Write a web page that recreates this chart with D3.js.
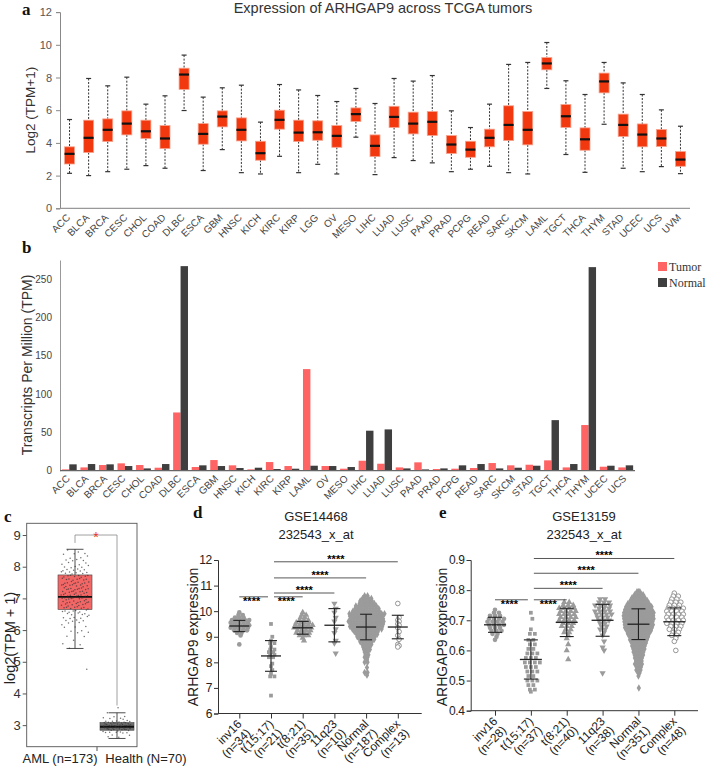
<!DOCTYPE html>
<html><head><meta charset="utf-8">
<script src="https://cdn.jsdelivr.net/npm/d3@7"></script>
<style>
html,body{margin:0;padding:0;background:#fff;}
svg{display:block;font-family:"Liberation Sans",Arial,sans-serif;}
</style></head>
<body>
<svg id="fig" width="708" height="767"></svg>
<script>
// ---------------- DATA ----------------
// Panel a: TCGA boxplots (log2 TPM+1)
const aCats = ["ACC","BLCA","BRCA","CESC","CHOL","COAD","DLBC","ESCA","GBM","HNSC","KICH","KIRC","KIRP","LGG","OV","MESO","LIHC","LUAD","LUSC","PAAD","PRAD","PCPG","READ","SARC","SKCM","LAML","TGCT","THCA","THYM","STAD","UCEC","UCS","UVM"];
const aLow  = [2.14,2.00,2.24,2.39,2.61,2.45,5.98,2.31,3.59,2.18,2.10,3.18,2.18,2.69,2.10,4.35,2.06,3.10,2.92,2.78,2.24,2.39,2.57,2.18,2.10,7.33,3.29,2.20,5.14,2.45,2.24,2.55,2.12];
const aQ1   = [2.71,3.41,4.08,4.49,4.27,3.65,7.27,3.92,4.98,4.12,2.94,4.84,4.08,4.16,3.73,5.31,3.16,4.94,4.55,4.45,3.35,3.12,3.76,4.14,3.88,8.47,4.94,3.55,7.06,4.39,3.76,3.78,2.57];
const aMed  = [3.33,4.31,4.80,5.18,4.71,4.27,8.18,4.55,5.61,4.80,3.37,5.41,4.63,4.65,4.43,5.76,3.82,5.59,5.18,5.29,3.90,3.59,4.31,5.10,4.80,8.86,5.63,4.22,7.76,5.10,4.51,4.27,2.98];
const aQ3   = [3.76,5.39,5.47,5.96,5.39,5.06,8.57,5.18,5.96,5.53,4.10,6.00,5.39,5.35,5.06,6.14,4.49,6.24,5.88,5.92,4.45,4.10,4.84,6.27,5.92,9.22,6.35,4.92,8.27,5.76,5.16,4.82,3.47];
const aHigh = [5.43,7.94,7.49,8.02,6.37,6.88,9.37,6.80,7.37,7.53,5.27,7.57,7.24,6.90,6.53,7.33,6.41,7.94,7.78,8.12,5.96,4.94,6.37,8.80,8.92,10.14,7.80,6.96,8.92,7.67,6.96,6.02,5.02];
const aTicks = [0,2,4,6,8,10,12];

// Panel b: TPM bars
const bCats = ["ACC","BLCA","BRCA","CESC","CHOL","COAD","DLBC","ESCA","GBM","HNSC","KICH","KIRC","KIRP","LAML","OV","MESO","LIHC","LUAD","LUSC","PAAD","PRAD","PCPG","READ","SARC","SKCM","STAD","TGCT","THCA","THYM","UCEC","UCS"];
const bTumor  = [1.7,4.3,7.4,9.6,7.4,3.9,76,4.8,13.9,7.0,1.7,11.3,6.1,132.6,6.1,2.6,13.0,9.1,4.3,10.9,2.2,2.6,3.5,10.0,7.0,7.8,13.5,4.3,59.6,5.2,4.3];
const bNormal = [8.3,8.7,8.3,6.1,3.0,8.7,267,7.0,6.1,3.5,3.9,2.2,2.6,6.5,6.1,4.8,52.2,53.9,3.0,1.7,3.0,7.0,8.7,3.0,3.9,6.5,66,8.7,265.7,6.5,7.0];
const bTicks = [0,50,100,150,200,250];
const bSeries = ["Tumor","Normal"];

// Panel c: AML vs healthy (log2 TPM+1)
const cGroups = ["AML (n=173)","Health (N=70)"];
const cLow  = [5.42,2.58];
const cQ1   = [6.65,2.84];
const cMed  = [7.05,2.95];
const cQ3   = [7.74,3.08];
const cHigh = [8.55,3.39];
// points as [value, count]
const cAmlPts = [[8.5,2],[8.4,3],[8.3,3],[8.2,4],[8.1,4],[8.0,5],[7.9,6],[7.8,7],[7.7,8],[7.6,8],[7.5,9],[7.4,9],[7.3,10],[7.2,10],[7.1,10],[7.0,11],[6.9,9],[6.8,8],[6.7,8],[6.6,7],[6.5,6],[6.4,5],[6.3,4],[6.2,3],[6.1,3],[6.0,2],[5.9,2],[5.8,2],[5.7,1],[5.6,1],[5.5,1],[5.4,1],[4.75,1]];
const cHealthPts = [[3.55,1],[3.4,1],[3.3,2],[3.2,3],[3.15,4],[3.1,6],[3.05,8],[3.0,9],[2.95,9],[2.9,9],[2.85,7],[2.8,4],[2.75,3],[2.7,2],[2.65,1],[2.6,1]];
const cTicks = [3,4,5,6,7,8,9];

// Panels d / e: scatter dot plots
const dCats = ["inv16","t(15;17)","t(8;21)","11q23","Normal","Complex"];
const dN    = ["(n=34)","(n=21)","(n=35)","(n=10)","(n=187)","(n=13)"];
const dMean = [9.42,8.25,9.35,9.45,9.38,9.38];
const dSD   = [0.22,0.60,0.25,0.65,0.50,0.46];
const dPts = [
  [[9.95,1],[9.85,2],[9.75,3],[9.65,5],[9.55,5],[9.45,5],[9.35,5],[9.25,4],[9.15,2],[9.05,1],[8.7,1]],
  [[9.5,1],[9.0,1],[8.85,1],[8.75,2],[8.6,1],[8.5,2],[8.4,2],[8.3,2],[8.2,2],[7.95,1],[7.85,1],[7.7,1],[7.55,1],[7.45,2],[6.7,1]],
  [[9.95,1],[9.85,2],[9.75,2],[9.65,3],[9.55,4],[9.45,5],[9.35,5],[9.25,4],[9.15,4],[9.05,3],[8.95,1],[8.85,1]],
  [[10.3,1],[10.1,1],[9.95,1],[9.75,1],[9.6,1],[9.3,1],[9.15,1],[8.85,1],[8.75,1],[8.35,1]],
  [[10.6,2],[10.5,4],[10.4,5],[10.3,6],[10.2,8],[10.1,9],[10.0,10],[9.9,13],[9.8,12],[9.7,12],[9.6,13],[9.5,12],[9.4,12],[9.3,11],[9.2,9],[9.1,8],[9.0,7],[8.9,6],[8.8,5],[8.7,4],[8.6,3],[8.5,3],[8.4,2],[8.3,2],[8.2,2],[8.1,1],[8.0,2],[7.8,1],[7.6,2],[7.5,1]],
  [[10.3,1],[9.75,1],[9.65,1],[9.6,1],[9.5,1],[9.45,1],[9.35,1],[9.2,1],[9.05,1],[8.9,1],[8.7,1],[8.65,1],[8.6,1]]
];
const dTicks = [6,7,8,9,10,11,12];
// significance bars: [fromIndex, toIndex, yValue]
const dSig = [[0,1,10.56],[1,2,10.56],[1,3,10.71],[1,4,11.30],[1,5,11.93]];

const eCats = ["inv16","t(15;17)","t(8;21)","11q23","Normal","Complex"];
const eN    = ["(n=28)","(n=37)","(n=40)","(n=38)","(n=351)","(n=48)"];
const eMean = [0.685,0.570,0.693,0.700,0.687,0.695];
const eSD   = [0.025,0.065,0.047,0.053,0.051,0.046];
const ePts = [
  [[0.735,1],[0.725,2],[0.715,3],[0.705,4],[0.695,4],[0.685,4],[0.675,3],[0.665,3],[0.655,2],[0.645,1],[0.635,1]],
  [[0.725,1],[0.705,1],[0.67,1],[0.655,2],[0.635,2],[0.62,2],[0.605,2],[0.59,3],[0.575,3],[0.56,4],[0.545,3],[0.53,3],[0.515,2],[0.5,3],[0.485,2],[0.47,2],[0.463,1]],
  [[0.76,2],[0.75,3],[0.74,4],[0.73,4],[0.72,4],[0.71,4],[0.70,4],[0.69,3],[0.68,3],[0.67,2],[0.66,2],[0.65,1],[0.64,1],[0.62,1],[0.60,1],[0.57,1]],
  [[0.77,2],[0.76,3],[0.75,4],[0.74,3],[0.73,4],[0.72,4],[0.71,3],[0.70,3],[0.69,2],[0.68,2],[0.67,2],[0.66,1],[0.65,1],[0.63,1],[0.61,1],[0.60,1],[0.525,1]],
  [[0.795,3],[0.785,7],[0.775,10],[0.765,13],[0.755,16],[0.745,19],[0.735,20],[0.725,22],[0.715,22],[0.705,22],[0.695,21],[0.685,21],[0.675,20],[0.665,18],[0.655,16],[0.645,14],[0.635,13],[0.625,11],[0.615,10],[0.605,9],[0.595,8],[0.585,7],[0.575,6],[0.565,5],[0.555,6],[0.545,4],[0.535,4],[0.525,2],[0.515,1],[0.475,1]],
  [[0.79,1],[0.78,2],[0.77,2],[0.76,3],[0.75,3],[0.74,4],[0.73,4],[0.72,4],[0.71,4],[0.70,4],[0.69,4],[0.68,3],[0.67,3],[0.66,2],[0.65,2],[0.64,1],[0.63,1],[0.60,1]]
];
const eTicks = [0.4,0.5,0.6,0.7,0.8,0.9];
const eSig = [[0,1,0.768],[1,2,0.768],[1,3,0.806],[1,4,0.856],[1,5,0.905]];

// ---------------- DRAW ----------------
const svg = d3.select("#fig");
const SERIF = "'Liberation Serif','Times New Roman',serif";

function panelLabel(t, x, y){
  svg.append("text").attr("x",x).attr("y",y).text(t)
    .attr("font-family",SERIF).attr("font-weight","bold").attr("font-size",17).attr("fill","#111");
}

// ===== Panel a =====
(function(){
  const x = d3.scaleBand().domain(aCats).range([60,690]);
  const y = d3.scaleLinear().domain([0,12]).range([208.3,12.1]);
  const g = svg.append("g");
  g.append("text").attr("x",383).attr("y",13).attr("text-anchor","middle")
    .attr("font-size",14.5).attr("fill","#333").text("Expression of ARHGAP9 across TCGA tumors");
  const ya = g.append("g").attr("transform","translate(60,0)")
    .call(d3.axisLeft(y).tickValues(aTicks).tickSize(4).tickPadding(4));
  ya.select(".domain").attr("stroke","#888");
  ya.selectAll(".tick line").attr("stroke","#888");
  ya.selectAll(".tick text").attr("font-size",11).attr("fill","#555").attr("font-family","Liberation Sans, Arial");
  g.append("line").attr("x1",60).attr("x2",690).attr("y1",y(0)).attr("y2",y(0)).attr("stroke","#999").attr("stroke-width",1.2);
  g.append("text").attr("transform","translate(35,"+((y(0)+y(12))/2)+") rotate(-90)")
    .attr("text-anchor","middle").attr("font-size",13.5).attr("fill","#333").text("Log2 (TPM+1)");
  const bw = 10;
  aCats.forEach((c,i)=>{
    const cx = x(c)+x.bandwidth()/2;
    const gg = g.append("g");
    gg.append("line").attr("x1",cx).attr("x2",cx).attr("y1",y(aHigh[i])).attr("y2",y(aQ3[i]))
      .attr("stroke","#333").attr("stroke-width",1).attr("stroke-dasharray","2,1.5");
    gg.append("line").attr("x1",cx).attr("x2",cx).attr("y1",y(aQ1[i])).attr("y2",y(aLow[i]))
      .attr("stroke","#333").attr("stroke-width",1).attr("stroke-dasharray","2,1.5");
    [aHigh[i],aLow[i]].forEach(v=>gg.append("line").attr("x1",cx-2.5).attr("x2",cx+2.5).attr("y1",y(v)).attr("y2",y(v)).attr("stroke","#333").attr("stroke-width",1.2));
    gg.append("rect").attr("x",cx-bw/2).attr("width",bw).attr("y",y(aQ3[i])).attr("height",y(aQ1[i])-y(aQ3[i]))
      .attr("fill","#f2380f").attr("stroke","#f7a48f").attr("stroke-width",0.8);
    gg.append("line").attr("x1",cx-bw/2).attr("x2",cx+bw/2).attr("y1",y(aMed[i])).attr("y2",y(aMed[i]))
      .attr("stroke","#111").attr("stroke-width",2.2);
  });
  g.selectAll(".xl").data(aCats).join("text").attr("class","xl")
    .attr("transform",d=>"translate("+(x(d)+x.bandwidth()/2-3)+",214) rotate(-45)")
    .attr("text-anchor","end").attr("dy","0.6em").attr("font-size",10).attr("fill","#444").text(d=>d);
  panelLabel("a",22,15);
})();

// ===== Panel b =====
(function(){
  const x = d3.scaleBand().domain(bCats).range([60,635]).paddingInner(0.2).paddingOuter(0.1);
  const xs = d3.scaleBand().domain(bSeries).range([0,x.bandwidth()]);
  const y = d3.scaleLinear().domain([0,275]).range([470.7,260]);
  const col = {Tumor:"#ff6464",Normal:"#3f3f3f"};
  const g = svg.append("g");
  bCats.forEach((c,i)=>{
    [["Tumor",bTumor[i]],["Normal",bNormal[i]]].forEach(([s,v])=>{
      g.append("rect").attr("x",x(c)+xs(s)).attr("width",xs.bandwidth()).attr("y",y(v)).attr("height",y(0)-y(v)).attr("fill",col[s]);
    });
  });
  const ya = g.append("g").attr("transform","translate(60,0)")
    .call(d3.axisLeft(y).tickValues(bTicks).tickSize(0).tickPadding(8));
  ya.select(".domain").attr("stroke","#999");
  ya.selectAll(".tick text").attr("font-size",10).attr("fill","#444").attr("font-family","Liberation Sans, Arial");
  g.append("line").attr("x1",60).attr("x2",635).attr("y1",y(0)).attr("y2",y(0)).attr("stroke","#666").attr("stroke-width",1.3);
  g.append("text").attr("transform","translate(32,365) rotate(-90)")
    .attr("text-anchor","middle").attr("font-size",14).attr("fill","#333").text("Transcripts Per Million (TPM)");
  g.selectAll(".xl").data(bCats).join("text").attr("class","xl")
    .attr("transform",d=>"translate("+(x(d)+x.bandwidth()/2-3)+",475) rotate(-45)")
    .attr("text-anchor","end").attr("dy","0.6em").attr("font-size",10).attr("fill","#444").text(d=>d);
  bSeries.forEach((s,i)=>{
    g.append("rect").attr("x",658).attr("y",262+i*16).attr("width",9).attr("height",9).attr("fill",col[s]);
    g.append("text").attr("x",669).attr("y",270.5+i*16).attr("font-family",SERIF).attr("font-size",12).attr("fill","#333").text(s);
  });
  panelLabel("b",22,253);
})();

// jitter offset from index (deterministic, layout only)
function jit(k){ const f = (k*0.6180339887)%1; return f*2-1; }

// ===== Panel c =====
(function(){
  const y = d3.scaleLinear().domain([2.32,9.37]).range([746.7,523.3]);
  const cx = [75,117];
  const g = svg.append("g");
  g.append("rect").attr("x",26.7).attr("y",523.3).attr("width",110.3).attr("height",223.4)
    .attr("fill","none").attr("stroke","#555").attr("stroke-width",0.9);
  const ya = g.append("g").attr("transform","translate(26.7,0)")
    .call(d3.axisLeft(y).tickValues(cTicks).tickSize(4).tickPadding(2).tickFormat(d3.format("d")));
  ya.select(".domain").remove();
  ya.selectAll(".tick line").attr("stroke","#555");
  ya.selectAll(".tick text").attr("font-size",13).attr("fill","#333").attr("font-family","Liberation Sans, Arial");
  g.append("line").attr("x1",97).attr("x2",97).attr("y1",746.7).attr("y2",751).attr("stroke","#555");
  g.append("text").attr("x",60).attr("y",763).attr("text-anchor","middle").attr("font-size",13).attr("fill","#222").text(cGroups[0]);
  g.append("text").attr("x",146).attr("y",763).attr("text-anchor","middle").attr("font-size",13).attr("fill","#222").text(cGroups[1]);
  g.append("text").attr("transform","translate(15,638) rotate(-90)").attr("text-anchor","middle")
    .attr("font-size",14.5).attr("fill","#222").text("log2(TPM + 1)");
  const fills = ["#f26666","#6e6e6e"];
  const bw = 34;
  [0,1].forEach(i=>{
    const c = cx[i];
    g.append("line").attr("x1",c).attr("x2",c).attr("y1",y(cHigh[i])).attr("y2",y(cLow[i])).attr("stroke","#222").attr("stroke-width",0.8);
    [cHigh[i],cLow[i]].forEach(v=>g.append("line").attr("x1",c-8.5).attr("x2",c+8.5).attr("y1",y(v)).attr("y2",y(v)).attr("stroke","#222").attr("stroke-width",0.8));
    g.append("rect").attr("x",c-bw/2).attr("width",bw).attr("y",y(cQ3[i])).attr("height",y(cQ1[i])-y(cQ3[i]))
      .attr("fill",fills[i]).attr("stroke","#444").attr("stroke-width",0.6);
    g.append("line").attr("x1",c-bw/2).attr("x2",c+bw/2).attr("y1",y(cMed[i])).attr("y2",y(cMed[i])).attr("stroke","#111").attr("stroke-width",1.8);
  });
  let k=0;
  [cAmlPts,cHealthPts].forEach((pts,i)=>{
    pts.forEach(([v,n])=>{
      for(let j=0;j<n;j++){
        k++;
        const dy = jit(k*1.37+0.3)*0.04;
        g.append("circle").attr("cx",cx[i]+jit(k)*14).attr("cy",y(v+dy)).attr("r",0.75)
          .attr("fill","#333").attr("opacity",0.7);
      }
    });
  });
  // significance bracket
  const br = d3.path();
  br.moveTo(cx[0],y(8.75)); br.lineTo(cx[0],y(9.0)); br.lineTo(cx[1],y(9.0)); br.lineTo(cx[1],y(3.62));
  g.append("path").attr("d",br.toString()).attr("fill","none").attr("stroke","#888").attr("stroke-width",0.8);
  g.append("text").attr("x",(cx[0]+cx[1])/2).attr("y",y(9.0)+7).attr("text-anchor","middle")
    .attr("font-size",14).attr("fill","#e8332f").text("*");
  panelLabel("c",4,522);
})();

// ===== Panels d & e =====
const shapes = [
  {t:d3.symbolCircle,rot:0,open:false},
  {t:d3.symbolSquare,rot:0,open:false},
  {t:d3.symbolTriangle,rot:0,open:false},
  {t:d3.symbolTriangle,rot:180,open:false},
  {t:d3.symbolDiamond,rot:0,open:false},
  {t:d3.symbolCircle,rot:0,open:true}
];
function dotPanel(o){
  const g = svg.append("g");
  const x = d3.scalePoint().domain(o.cats).range(o.xr);
  const y = d3.scaleLinear().domain(o.yd).range(o.yr);
  // axes
  const ya = g.append("g").attr("transform","translate("+o.x0+",0)")
    .call(d3.axisLeft(y).tickValues(o.ticks).tickSize(4).tickPadding(2).tickFormat(o.fmt));
  ya.selectAll(".domain,.tick line").attr("stroke","#333");
  ya.selectAll(".tick text").attr("font-size",12).attr("letter-spacing","-0.3").attr("fill","#222").attr("font-family","Liberation Sans, Arial");
  const xa = g.append("g").attr("transform","translate(0,"+o.yr[0]+")")
    .call(d3.axisBottom(x).tickSize(5).tickFormat(""));
  xa.select(".domain").attr("d","M"+o.x0+",0H"+o.x1).attr("stroke","#333");
  xa.selectAll(".tick line").attr("stroke","#333");
  // labels
  o.cats.forEach((c,i)=>{
    const t = g.append("text").attr("transform","translate("+(x(c)-1)+","+(o.yr[0]+7)+") rotate(-45)")
      .attr("text-anchor","end").attr("font-size",12).attr("fill","#222");
    t.append("tspan").attr("x",0).attr("dy","0.5em").text(c);
    t.append("tspan").attr("x",0).attr("dy","1.05em").text(o.ns[i]);
  });
  g.append("text").attr("transform","translate("+o.ylx+",637) rotate(-90)").attr("text-anchor","middle")
    .attr("font-size",14).attr("fill","#222").text("ARHGAP9 expression");
  g.append("text").attr("x",o.tx).attr("y",521).attr("text-anchor","middle").attr("font-size",13).attr("fill","#222").text(o.title);
  g.append("text").attr("x",o.tx).attr("y",539).attr("text-anchor","middle").attr("font-size",13).attr("fill","#222").text("232543_x_at");
  // dots
  o.pts.forEach((grp,i)=>{
    const maxc = d3.max(grp,d=>d[1]);
    const sp = Math.min(o.maxSp, o.width/maxc);
    const sh = shapes[i];
    const sym = d3.symbol().type(sh.t).size(sh.t===d3.symbolDiamond?16:(sh.t===d3.symbolSquare?14:17));
    grp.forEach(([v,n],r)=>{
      const stag = (r%2)*sp*0.3;
      for(let j=0;j<n;j++){
        const px = x(o.cats[i]) + (j-(n-1)/2)*sp + stag;
        g.append("path").attr("d",sym())
          .attr("transform","translate("+px+","+y(v)+") rotate("+sh.rot+")")
          .attr("fill",sh.open?"#fff":"#9b9b9b").attr("stroke",sh.open?"#8a8a8a":"none").attr("stroke-width",0.9);
      }
    });
  });
  // mean & SD
  o.cats.forEach((c,i)=>{
    const cx = x(c), m = o.mean[i], s = o.sd[i];
    g.append("line").attr("x1",cx-o.mw).attr("x2",cx+o.mw).attr("y1",y(m)).attr("y2",y(m)).attr("stroke","#222").attr("stroke-width",1.3);
    g.append("line").attr("x1",cx).attr("x2",cx).attr("y1",y(m+s)).attr("y2",y(m-s)).attr("stroke","#222").attr("stroke-width",1.1);
    [m+s,m-s].forEach(v=>g.append("line").attr("x1",cx-o.cw).attr("x2",cx+o.cw).attr("y1",y(v)).attr("y2",y(v)).attr("stroke","#222").attr("stroke-width",1.1));
  });
  // significance
  o.sig.forEach(([a,b,v],k)=>{
    const xa1 = x(o.cats[a])+(a===1?3:0), xb = x(o.cats[b])-(b===1?3:0);
    g.append("line").attr("x1",xa1).attr("x2",xb).attr("y1",y(v)).attr("y2",y(v)).attr("stroke","#444").attr("stroke-width",0.9);
    const low = (k<2);
    g.append("text").attr("x",(xa1+xb)/2+(low?-2:0)).attr("y",y(v)+(low?8:1)).attr("text-anchor","middle")
      .attr("font-size",11).attr("font-weight","bold").attr("fill","#000").text("****");
  });
}
dotPanel({cats:dCats,ns:dN,mean:dMean,sd:dSD,pts:dPts,ticks:dTicks,sig:dSig,fmt:d3.format("d"),
  xr:[239.3,397.8],x0:218,x1:421.7,yd:[6,12],yr:[713.5,560],width:38,maxSp:4.3,mw:10,cw:6,ylx:198,tx:316,title:"GSE14468"});
dotPanel({cats:eCats,ns:eN,mean:eMean,sd:eSD,pts:ePts,ticks:eTicks,sig:eSig,fmt:d3.format(".1f"),
  xr:[495,674.3],x0:470.7,x1:698,yd:[0.4,0.9],yr:[710.7,560],width:31,maxSp:5,mw:11,cw:7,ylx:447,tx:584,title:"GSE13159"});
panelLabel("d",193,518);
panelLabel("e",439,518);
</script>
</body></html>
